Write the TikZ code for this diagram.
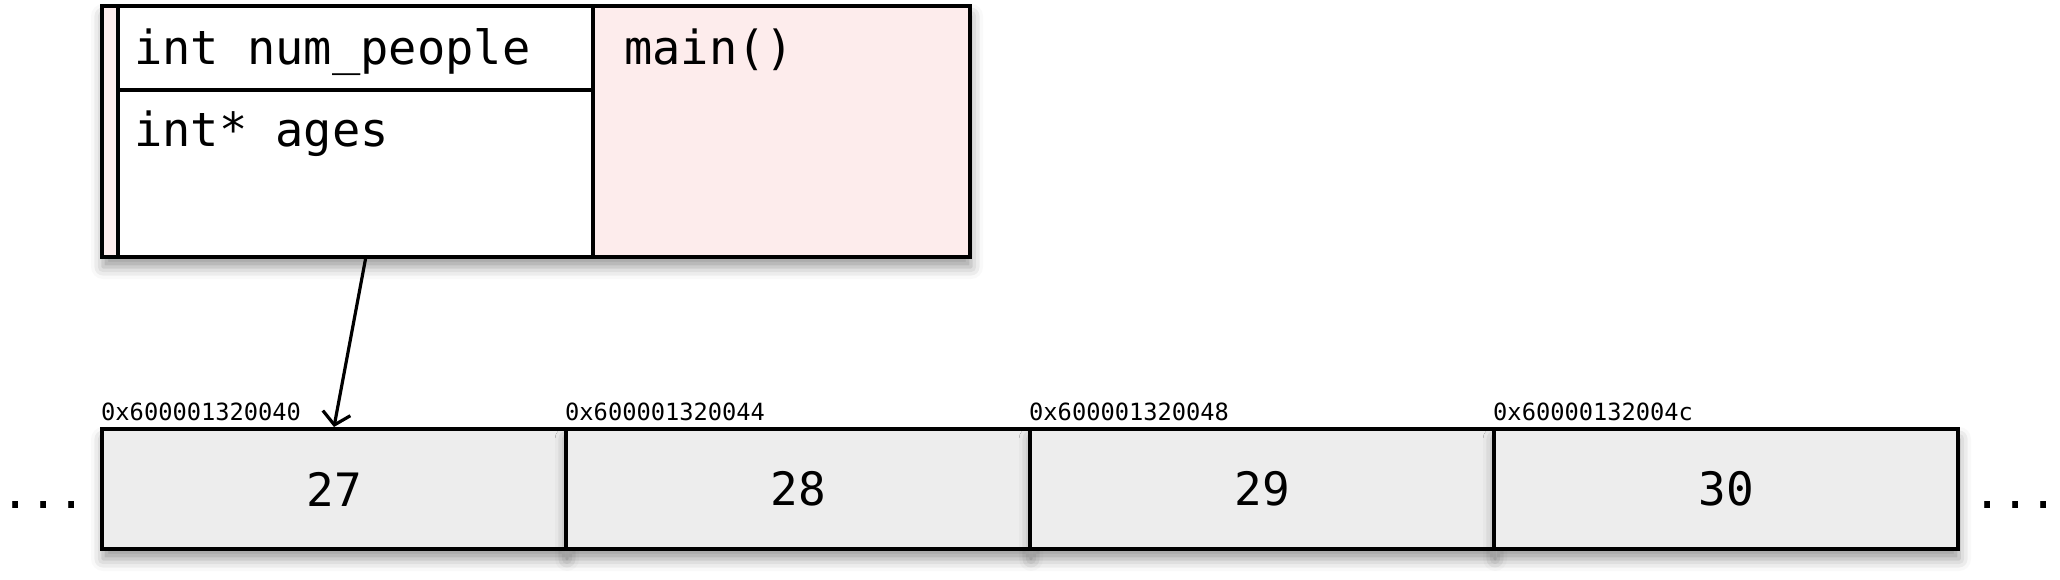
\documentclass[tikz,border=0pt]{standalone}
\usepackage{fontspec}
\newfontfamily\codefont{DejaVu Sans Mono}
\usetikzlibrary{arrows.meta,shadows.blur,calc}
\definecolor{framepink}{HTML}{FDECEC}
\definecolor{cellgray}{HTML}{EDEDED}
\begin{document}
\begin{tikzpicture}[x=1pt,y=-1pt,
 boxline/.style={draw=black,line width=4pt},
 shade/.style={blur shadow={shadow xshift=1pt,shadow yshift=-10pt,shadow blur radius=12pt,shadow opacity=40}},
 bigtext/.style={font=\codefont\fontsize{47}{56}\selectfont,inner sep=0pt,anchor=base west},
 numtext/.style={font=\codefont\fontsize{46}{56}\selectfont},
 addrtext/.style={font=\codefont\fontsize{23.7}{28}\selectfont,inner sep=0pt,anchor=base west},
 memcell/.style={boxline,fill=cellgray,shade,minimum width=464pt,minimum height=120pt,inner sep=0pt,anchor=north west},
 varcell/.style={boxline,fill=white,minimum width=475pt,inner sep=0pt,anchor=north west},
 ptr/.style={line width=3.2pt,-{Straight Barb[length=12pt,width=28pt]}},
]
\useasboundingbox (0,0) rectangle (2060,580);
% stack frame
\node[boxline,fill=framepink,shade,minimum width=868pt,minimum height=251pt,inner sep=0pt,anchor=north west] (frame) at (100,4) {};
\node[varcell,minimum height=84pt] (numcell) at (116,4) {};
\node[varcell,minimum height=167pt] (agescell) at (116,88) {};
\node[bigtext] (numlabel) at (134,65) {int num\_people};
\node[bigtext] (ageslabel) at (134,147) {int* ages};
\node[bigtext] (mainlabel) at (624,65) {main()};
% heap array
\node[memcell,numtext] (c1) at (100,427) {\raisebox{-3pt}{27}};
\node[memcell,numtext] (c2) at (564,427) {\raisebox{-3pt}{28}};
\node[memcell,numtext] (c3) at (1028,427) {\raisebox{-3pt}{29}};
\node[memcell,numtext] (c4) at (1492,427) {\raisebox{-3pt}{30}};
\node[addrtext] (a1) at (101,420) {0x600001320040};
\node[addrtext] (a2) at (565,420) {0x600001320044};
\node[addrtext] (a3) at (1029,420) {0x600001320048};
\node[addrtext] (a4) at (1493,420) {0x60000132004c};
\node[bigtext] (ldots) at (1,508) {...};
\node[bigtext] (rdots) at (1973,508) {...};
% pointer
\draw[ptr] ($(agescell.south)+(10,0)$) -- (c1.north);
\end{tikzpicture}
\end{document}
